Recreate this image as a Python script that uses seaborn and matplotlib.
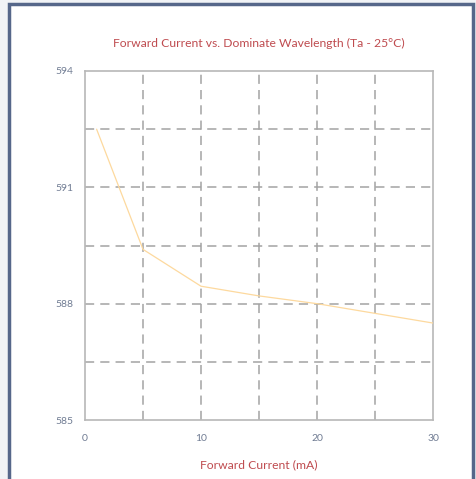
import matplotlib
matplotlib.use("Agg")
import matplotlib.pyplot as plt
import seaborn as sns
import pandas as pd
from matplotlib.patches import Rectangle

# Data
current_ma = [1, 5, 10, 15, 20, 25, 30]
wavelength_nm = [592.5, 589.4, 588.45, 588.2, 588.0, 587.75, 587.5]
x_ticks = [0, 10, 20, 30]
y_ticks = [585, 588, 591, 594]
title = "Forward Current vs. Dominate Wavelength (Ta - 25°C)"
x_label = "Forward Current (mA)"

df = pd.DataFrame({"current": current_ma, "wavelength": wavelength_nm})

sns.set_theme(style="white")
plt.rcParams["font.family"] = ["Lato", "DejaVu Sans"]

fig = plt.figure(figsize=(4.77, 4.79), dpi=100)
fig.patch.set_facecolor("#F1F3F6")
# white card with border
card = Rectangle((9.5 / 477, -0.05), (473 - 9.5) / 477, 1.05 - 4.5 / 479,
                 transform=fig.transFigure, facecolor="white",
                 edgecolor="#56678A", linewidth=2.5, zorder=-10)
fig.patches.append(card)

ax = fig.add_axes([85 / 477, 59 / 479, 348 / 477, 349 / 479])
ax.set_zorder(5)
ax.set_facecolor("white")

sns.lineplot(data=df, x="current", y="wavelength", ax=ax, color="#FDD99E",
             linewidth=0.9, zorder=3)

ax.set_xlim(0, 30)
ax.set_ylim(585, 594)

grid_kw = dict(color="#A3A3A3", linewidth=1.1, dashes=(6, 4), zorder=1)
for yv in [586.5, 588, 589.5, 591, 592.5]:
    ax.axhline(yv, **grid_kw)
for xv in [5, 10, 15, 20, 25]:
    ax.axvline(xv, **grid_kw)

ax.set_xticks(x_ticks)
ax.set_yticks(y_ticks)
ax.tick_params(axis="both", length=0, labelsize=7.5, labelcolor="#707C93")
ax.tick_params(axis="x", pad=10)
ax.tick_params(axis="y", pad=8.5)

for s in ax.spines.values():
    s.set_color("#B8B8B8")
    s.set_linewidth(1.2)
    s.set_visible(True)

ax.set_xlabel(x_label, fontsize=8.7, color="#BF4B4F", labelpad=12)
ax.set_ylabel("")
ax.set_title(title, fontsize=8.7, color="#BF4B4F", pad=17, x=0.5)

fig.savefig("out.png", dpi=100)
